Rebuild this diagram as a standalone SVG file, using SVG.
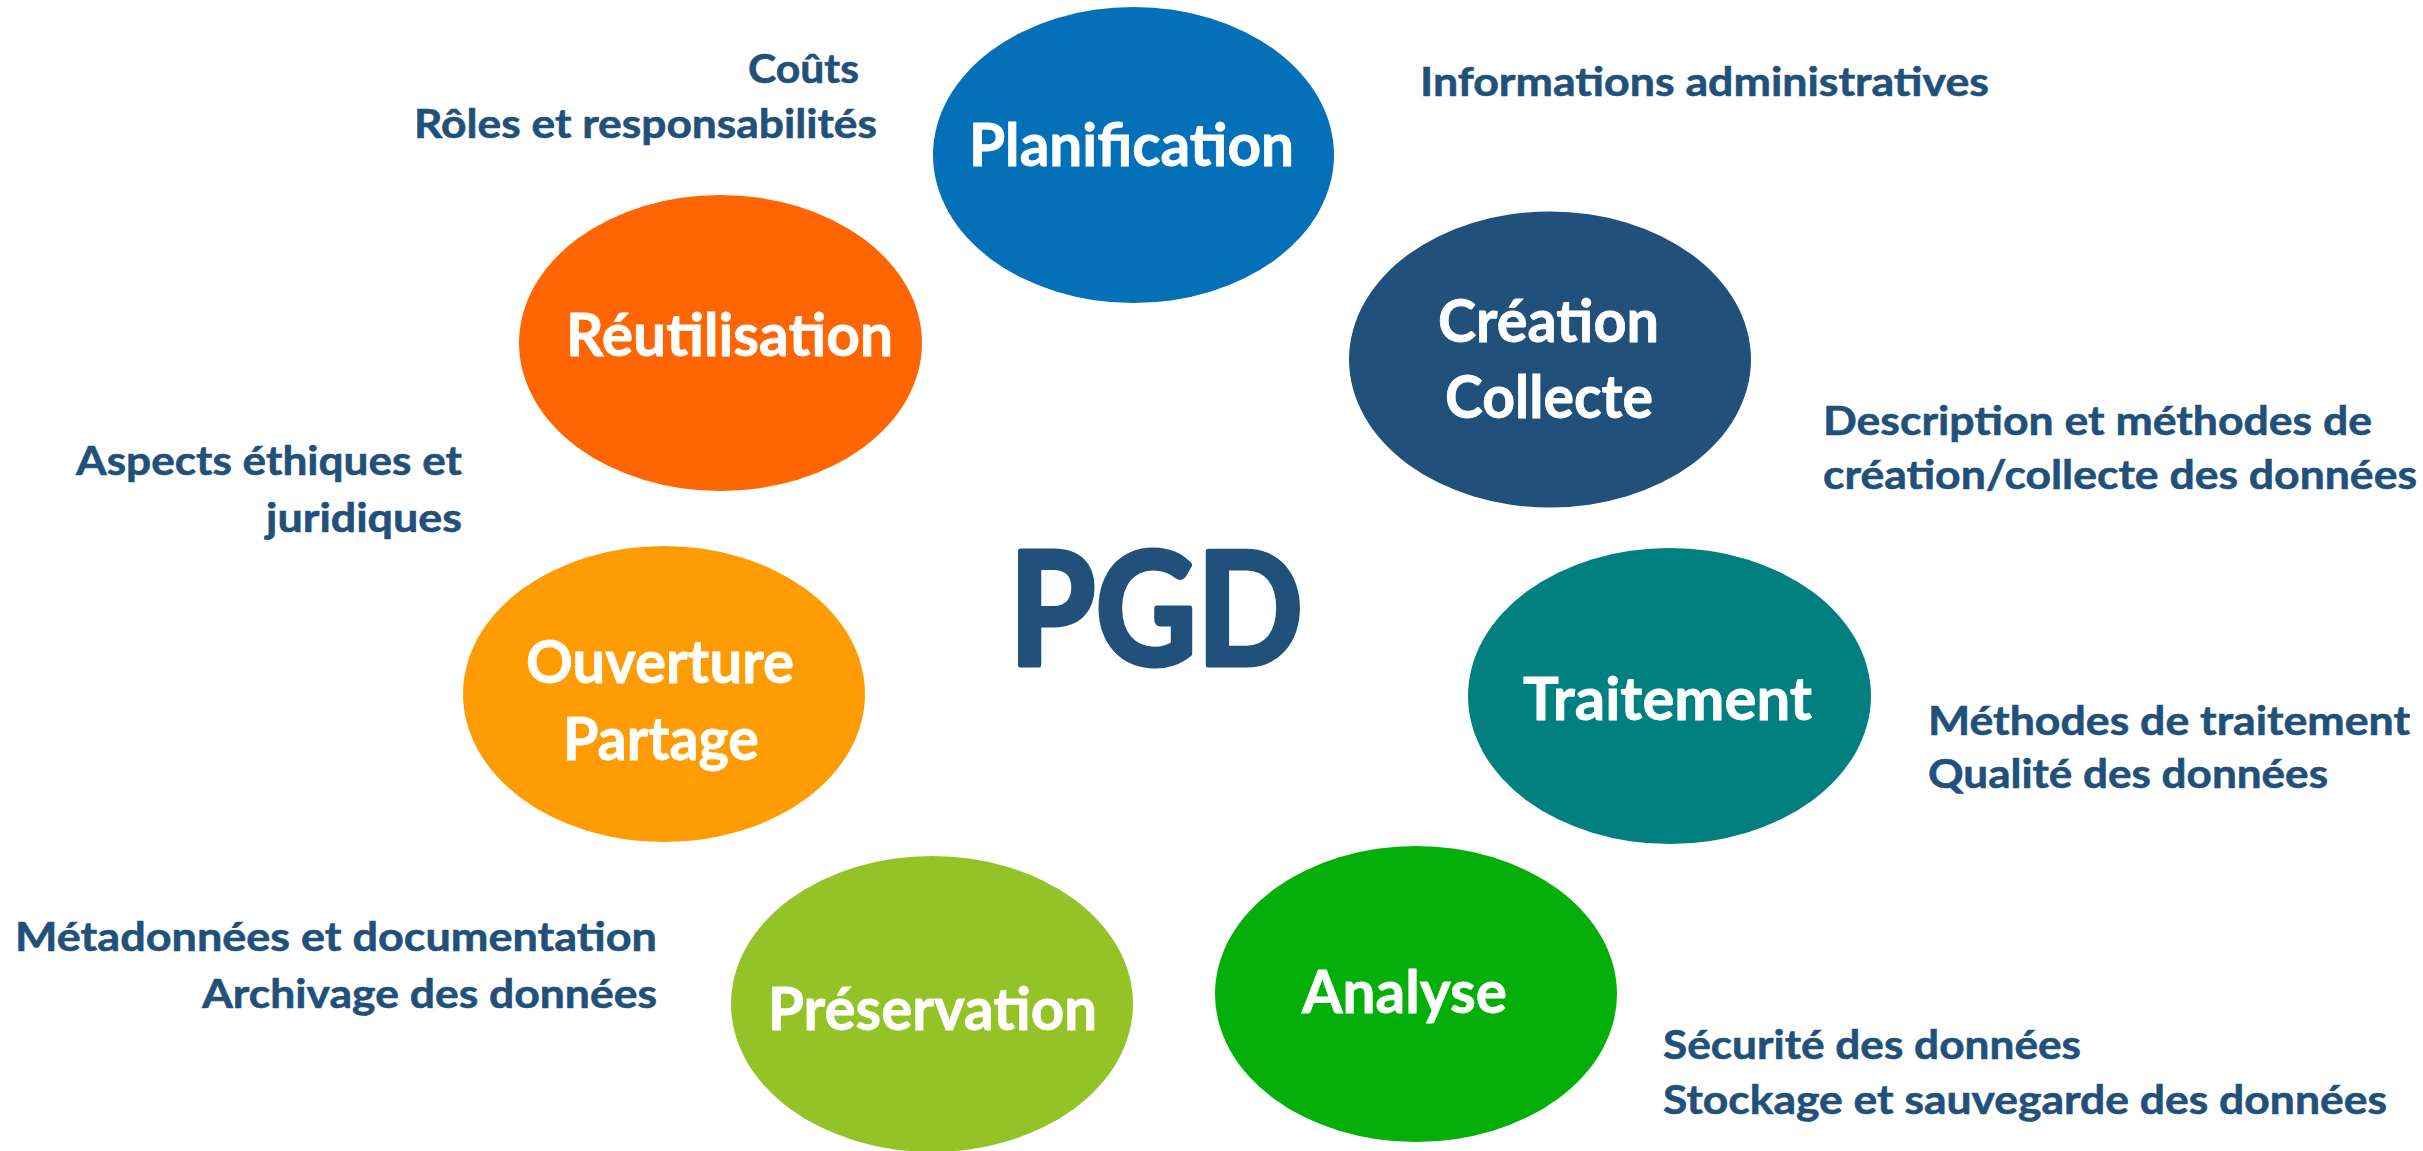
<svg xmlns="http://www.w3.org/2000/svg" width="2423" height="1151" viewBox="0 0 2423 1151">
<style>
.node-text{font-family:Lato,"Open Sans","Liberation Sans",sans-serif;font-weight:700;font-size:59px;fill:#ffffff;stroke:#ffffff;stroke-width:0.8}
.label{font-family:Lato,"Open Sans","Liberation Sans",sans-serif;font-weight:700;font-size:41px;fill:#21507A;stroke:#21507A;stroke-width:0.6}
.title{font-family:Lato,"Open Sans","Liberation Sans",sans-serif;font-weight:700;font-size:157px;fill:#21507A;stroke:#21507A;stroke-width:5;stroke-linejoin:round}
</style>
<rect x="0" y="0" width="2423" height="1151" fill="#ffffff"/>
<g id="connectors"></g>
<g id="node-planification">
<ellipse cx="1133.5" cy="155" rx="200.5" ry="148" fill="#0370B8"/>
<text class="node-text" x="969" y="166" textLength="325" lengthAdjust="spacingAndGlyphs">Planification</text>
</g>
<g id="node-creation">
<ellipse cx="1550" cy="359.5" rx="201" ry="148" fill="#21507A"/>
<text class="node-text" x="1438" y="342" textLength="221" lengthAdjust="spacingAndGlyphs">Création</text>
<text class="node-text" x="1445" y="418" textLength="208" lengthAdjust="spacingAndGlyphs">Collecte</text>
</g>
<g id="node-traitement">
<ellipse cx="1669.5" cy="696" rx="201.5" ry="148" fill="#028080"/>
<text class="node-text" x="1523" y="720" textLength="289" lengthAdjust="spacingAndGlyphs">Traitement</text>
</g>
<g id="node-analyse">
<ellipse cx="1416" cy="994" rx="201" ry="148" fill="#05AF0A"/>
<text class="node-text" x="1302" y="1013" textLength="205" lengthAdjust="spacingAndGlyphs">Analyse</text>
</g>
<g id="node-preservation">
<ellipse cx="932" cy="1004" rx="201" ry="148" fill="#93C327"/>
<text class="node-text" x="768" y="1030" textLength="329" lengthAdjust="spacingAndGlyphs">Préservation</text>
</g>
<g id="node-ouverture">
<ellipse cx="664" cy="694" rx="201" ry="148" fill="#FF9C03"/>
<text class="node-text" x="526" y="683" textLength="268" lengthAdjust="spacingAndGlyphs">Ouverture</text>
<text class="node-text" x="563" y="760" textLength="196" lengthAdjust="spacingAndGlyphs">Partage</text>
</g>
<g id="node-reutilisation">
<ellipse cx="720.5" cy="343" rx="201.5" ry="148" fill="#FF6503"/>
<text class="node-text" x="566" y="356" textLength="327" lengthAdjust="spacingAndGlyphs">Réutilisation</text>
</g>
<g id="center">
<text class="title" x="1009" y="665" textLength="294" lengthAdjust="spacingAndGlyphs">PGD</text>
</g>
<g id="labels">
<text class="label" x="859" y="83" text-anchor="end" textLength="111" lengthAdjust="spacingAndGlyphs">Coûts</text>
<text class="label" x="877" y="138" text-anchor="end" textLength="463" lengthAdjust="spacingAndGlyphs">Rôles et responsabilités</text>
<text class="label" x="1420" y="96" textLength="569" lengthAdjust="spacingAndGlyphs">Informations administratives</text>
<text class="label" x="1823" y="435" textLength="549" lengthAdjust="spacingAndGlyphs">Description et méthodes de</text>
<text class="label" x="1823" y="489" textLength="594" lengthAdjust="spacingAndGlyphs">création/collecte des données</text>
<text class="label" x="1928" y="735" textLength="482" lengthAdjust="spacingAndGlyphs">Méthodes de traitement</text>
<text class="label" x="1928" y="788" textLength="400" lengthAdjust="spacingAndGlyphs">Qualité des données</text>
<text class="label" x="1663" y="1059" textLength="418" lengthAdjust="spacingAndGlyphs">Sécurité des données</text>
<text class="label" x="1663" y="1114" textLength="724" lengthAdjust="spacingAndGlyphs">Stockage et sauvegarde des données</text>
<text class="label" x="657" y="951" text-anchor="end" textLength="642" lengthAdjust="spacingAndGlyphs">Métadonnées et documentation</text>
<text class="label" x="657" y="1008" text-anchor="end" textLength="455" lengthAdjust="spacingAndGlyphs">Archivage des données</text>
<text class="label" x="462" y="475" text-anchor="end" textLength="386" lengthAdjust="spacingAndGlyphs">Aspects éthiques et</text>
<text class="label" x="462" y="532" text-anchor="end" textLength="196" lengthAdjust="spacingAndGlyphs">juridiques</text>
</g>
</svg>
